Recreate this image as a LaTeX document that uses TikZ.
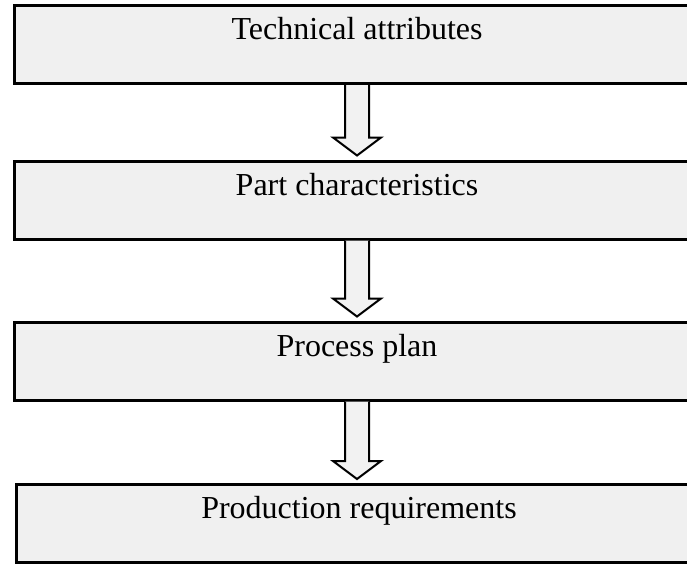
\documentclass[tikz,border=0pt]{standalone}
\usepackage{fontspec}
\setmainfont{Liberation Serif}
\usetikzlibrary{calc}

% hollow block arrow from the bottom of one box to the top of the next
\newcommand{\flowarrow}[2]{%
	\coordinate (tip) at (#1.south |- #2.north);
	\draw[hollow] ($(#1.south)+(-12,0)$) -- ($(tip)+(-12,-22)$)
		-- ($(tip)+(-24,-22)$) -- ($(tip)+(0,-4)$)
		-- ($(tip)+(24,-22)$) -- ($(tip)+(12,-22)$)
		-- ($(#1.south)+(12,0)$);}

\begin{document}
\begin{tikzpicture}[x=1pt, y=-1pt,
	stage/.style={draw, line width=3pt, fill=black!6, minimum width=686pt,
		inner sep=0pt, text height=34pt, text depth=44pt,
		font=\fontsize{32}{38}\selectfont},
	hollow/.style={draw, line width=2pt, line join=miter, fill=black!5}]
	\clip (0,0) rectangle (687,565);
	\fill[white] (0,0) rectangle (687,565);

	\node[stage] (T) at (357,44.5) {Technical attributes};
	\node[stage] (P) at (357,200) {Part characteristics};
	\node[stage] (PP) at (357,361) {Process plan};
	\node[stage] (R) at (359,523.5) {Production requirements};

	\flowarrow{T}{P}
	\flowarrow{P}{PP}
	\flowarrow{PP}{R}

\end{tikzpicture}
\end{document}
